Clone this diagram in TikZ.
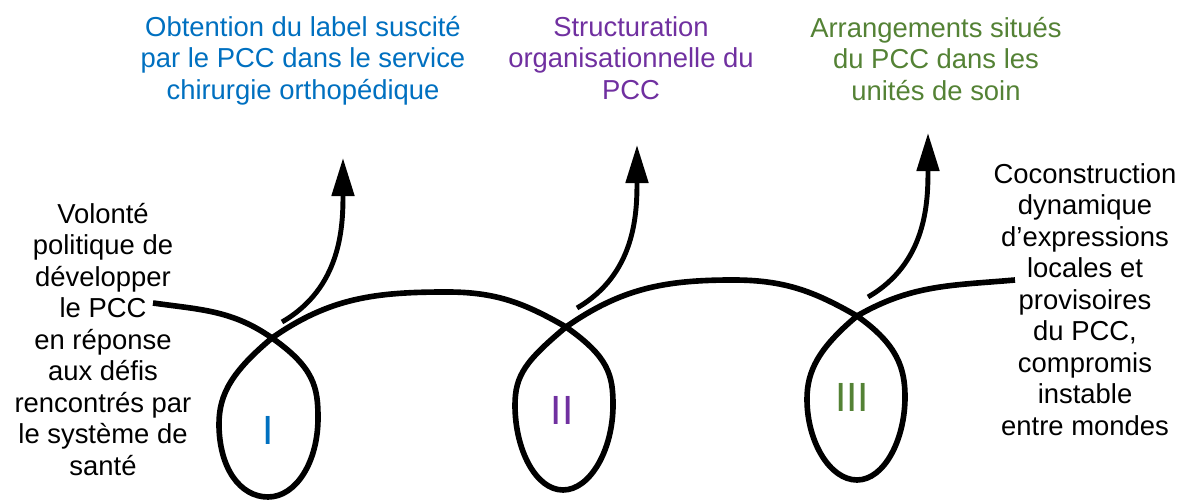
\documentclass[tikz,border=0pt]{standalone}
\usepackage{fontspec}
\setmainfont{Liberation Sans}
\usepackage{tikz}
\usetikzlibrary{positioning}
\usetikzlibrary{arrows.meta}
\definecolor{pccblue}{RGB}{0,112,192}
\definecolor{pccpurple}{RGB}{112,48,160}
\definecolor{pccgreen}{RGB}{84,130,53}

\begin{document}
\begin{tikzpicture}[x=0.025cm,y=0.025cm]
    \useasboundingbox (0,0) rectangle (1184,504);
    \begin{scope}[every node/.style={align=center,inner sep=0pt,anchor=north,font=\fontsize{19.5}{22.4}\selectfont}]
        \node[text=pccblue](label) at (303,488) {Obtention du label suscité\\par le PCC dans le service\\chirurgie orthopédique};
        \node[text=pccpurple](struct) at (631,488) {Structuration\\organisationnelle du\\PCC};
        \node[text=pccgreen](arr) at (936,487) {Arrangements situés\\du PCC dans les\\unités de soin};
        \node(pol) at (103,301) {Volonté\\politique de\\développer\\le PCC\\en réponse\\aux défis\\rencontrés par\\le système de\\santé};
        \node(cocon) at (1085,341) {Coconstruction\\dynamique\\d’expressions\\locales et\\provisoires\\du PCC,\\compromis\\instable\\entre mondes};
    \end{scope}
    \begin{scope}[every node/.style={font=\fontsize{29}{32}\selectfont}]
        \node[text=pccblue](n1) at (268,74) {I};
        \node[text=pccpurple](n2) at (562,94) {II};
        \node[text=pccgreen](n3) at (852,107) {III};
    \end{scope}
    %Crossings
    \coordinate (deb) at (153,201);
    \coordinate (c1) at (272,166);
    \coordinate (c2) at (566,177);
    \coordinate (c3) at (857,188);
    \coordinate (fin) at (1015,224);
    \coordinate (a1) at (282,182);
    \coordinate (t1) at (343,346);
    \coordinate (a2) at (577,196);
    \coordinate (t2) at (637,359);
    \coordinate (a3) at (868,207);
    \coordinate (t3) at (928,371);
    %Lines
    \draw[line width=4pt] (deb) to[out=-8,in=145] (c1)
        .. controls +(-35:52) and +(90:30) .. (318,86) .. controls +(-90:44) and +(0:28) .. (268,7)
        .. controls +(180:28) and +(-90:44) .. (219,80) .. controls +(90:30) and +(-140:52) .. (c1)
        to[out=35,in=180] (447,212) to[out=0,in=150] (c2)
        .. controls +(-35:52) and +(90:30) .. (613,99) .. controls +(-90:45) and +(0:27) .. (563,14)
        .. controls +(180:27) and +(-90:45) .. (515,99) .. controls +(90:30) and +(-140:52) .. (c2)
        to[out=35,in=180] (733,224) to[out=0,in=150] (c3)
        .. controls +(-35:50) and +(90:28) .. (905,107) .. controls +(-90:43) and +(0:27) .. (857,24)
        .. controls +(180:27) and +(-90:43) .. (807,105) .. controls +(90:28) and +(-140:50) .. (c3)
        to[out=30,in=185] (fin);
    \begin{scope}[line width=3.5pt, >={Triangle[length=0.95cm,width=0.55cm]}]
        \draw[->] (a1) to[out=30,in=-90] (t1);
        \draw[->] (a2) to[out=30,in=-90] (t2);
        \draw[->] (a3) to[out=30,in=-90] (t3);
    \end{scope}
\end{tikzpicture}
\end{document}
